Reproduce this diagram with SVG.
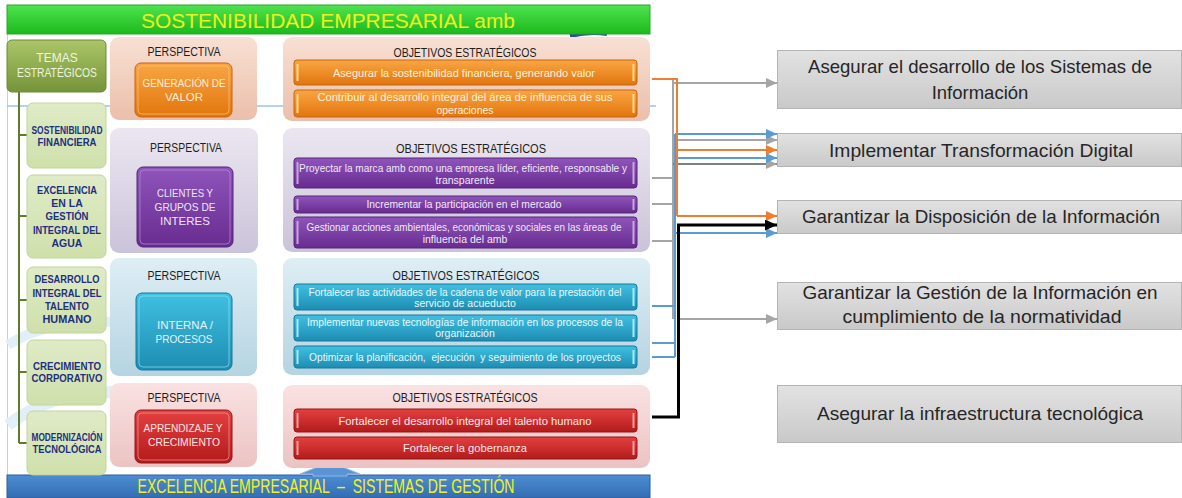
<svg xmlns="http://www.w3.org/2000/svg" width="1182" height="498" viewBox="0 0 1182 498">
<style>
text{font-family:"Liberation Sans",Arial,sans-serif}
.th{font-size:10.5px;font-weight:bold;fill:#1f2f80;text-anchor:middle}
.tm{font-size:12px;fill:#eef4dd;text-anchor:middle}
.ph{font-size:12px;fill:#1e1e1e;text-anchor:middle}
.pb{font-size:11.5px;text-anchor:middle}
.ob{font-size:10.5px;text-anchor:middle}
.rb{fill:url(#gGray);stroke:#b4b4b4;stroke-width:1}
.rt{font-size:18.5px;fill:#262626;text-anchor:middle}
.theme{fill:url(#gTheme);stroke:#c2d59c;stroke-width:1}
.c{fill:none;stroke-width:2}
</style>
<defs>
<linearGradient id="gTitle" x1="0" y1="0" x2="0" y2="1"><stop offset="0" stop-color="#4fe34f"/><stop offset="1" stop-color="#1cb91c"/></linearGradient>
<linearGradient id="gTemas" x1="0" y1="0" x2="0" y2="1"><stop offset="0" stop-color="#abc667"/><stop offset="1" stop-color="#75933a"/></linearGradient>
<linearGradient id="gTheme" x1="0" y1="0" x2="0" y2="1"><stop offset="0" stop-color="#dfebc7"/><stop offset="1" stop-color="#cfe0ab"/></linearGradient>
<linearGradient id="gP1" x1="0" y1="0" x2="0" y2="1"><stop offset="0" stop-color="#f8e0d4"/><stop offset="1" stop-color="#ebbfab"/></linearGradient>
<linearGradient id="gP2" x1="0" y1="0" x2="0" y2="1"><stop offset="0" stop-color="#ebe7f1"/><stop offset="1" stop-color="#cbc3d9"/></linearGradient>
<linearGradient id="gP3" x1="0" y1="0" x2="0" y2="1"><stop offset="0" stop-color="#deeef5"/><stop offset="1" stop-color="#b5d4e1"/></linearGradient>
<linearGradient id="gP4" x1="0" y1="0" x2="0" y2="1"><stop offset="0" stop-color="#fae2e2"/><stop offset="1" stop-color="#ecc3c3"/></linearGradient>
<linearGradient id="gB1" x1="0" y1="0" x2="0" y2="1"><stop offset="0" stop-color="#f9a644"/><stop offset="1" stop-color="#e2750d"/></linearGradient>
<linearGradient id="gB2" x1="0" y1="0" x2="0" y2="1"><stop offset="0" stop-color="#8f55bb"/><stop offset="1" stop-color="#682c90"/></linearGradient>
<linearGradient id="gB3" x1="0" y1="0" x2="0" y2="1"><stop offset="0" stop-color="#40c0e2"/><stop offset="1" stop-color="#1d8db2"/></linearGradient>
<linearGradient id="gB4" x1="0" y1="0" x2="0" y2="1"><stop offset="0" stop-color="#e44040"/><stop offset="1" stop-color="#b31b1b"/></linearGradient>
<linearGradient id="gGray" x1="0" y1="0" x2="0" y2="1"><stop offset="0" stop-color="#e2e2e2"/><stop offset="1" stop-color="#c9c9c9"/></linearGradient>
<linearGradient id="gBottom" x1="0" y1="0" x2="0" y2="1"><stop offset="0" stop-color="#4d8dd3"/><stop offset="1" stop-color="#336db3"/></linearGradient>
<marker id="aGray" markerUnits="userSpaceOnUse" markerWidth="11" markerHeight="10" refX="11" refY="5" orient="auto"><path d="M0,0 L11,5 L0,10 z" fill="#a5a5a5"/></marker>
<marker id="aBlue" markerUnits="userSpaceOnUse" markerWidth="11" markerHeight="10" refX="11" refY="5" orient="auto"><path d="M0,0 L11,5 L0,10 z" fill="#5b9bd5"/></marker>
<marker id="aOrange" markerUnits="userSpaceOnUse" markerWidth="11" markerHeight="10" refX="11" refY="5" orient="auto"><path d="M0,0 L11,5 L0,10 z" fill="#ed7d31"/></marker>
<marker id="aBlack" markerUnits="userSpaceOnUse" markerWidth="12" markerHeight="11" refX="12" refY="5.5" orient="auto"><path d="M0,0 L12,5.5 L0,11 z" fill="#000"/></marker>
</defs>

<rect x="0" y="0" width="1182" height="498" fill="#ffffff"/>

<g id="slide-background">
<rect x="7" y="34" width="643" height="441" fill="#ffffff"/>
<line x1="7.5" y1="34" x2="7.5" y2="475" stroke="#d0d0d0" stroke-width="1"/>
<line x1="7" y1="106" x2="656" y2="106" stroke="#9cc3e6" stroke-width="1.5"/>
<path d="M8,345 Q50,318 115,322" fill="none" stroke="#e2eef8" stroke-width="10"/>
<path d="M8,425 Q50,392 115,392" fill="none" stroke="#e2eef8" stroke-width="12"/>
<path d="M570,36 Q590,31 607,34" fill="none" stroke="#2a4f9a" stroke-width="4"/>
</g>

<g id="title">
<rect x="7" y="5" width="643" height="29" fill="url(#gTitle)" stroke="#2aa82a" stroke-width="1"/>
<text x="328" y="28" font-size="20" fill="#f2f21c" text-anchor="middle" textLength="374" lengthAdjust="spacingAndGlyphs">SOSTENIBILIDAD EMPRESARIAL amb</text>
</g>

<g id="bottom-bar">
<rect x="7" y="475" width="643" height="23" fill="url(#gBottom)" stroke="#2e5f9e" stroke-width="1"/>
<polygon points="300,474 330,462 360,474 347,474 347,476 313,476 313,474" fill="#5b94d4" stroke="#8fb8e6" stroke-width="1"/>
<text x="326" y="493" font-size="20" fill="#f2f21c" text-anchor="middle" style="white-space:pre" textLength="377" lengthAdjust="spacingAndGlyphs">EXCELENCIA EMPRESARIAL  –  SISTEMAS DE GESTIÓN</text>
</g>

<g id="temas-tree">
<path d="M19,92 V443 M19,135 H28 M19,216 H28 M19,300 H28 M19,372 H28 M19,443 H28" fill="none" stroke="#5e7d2c" stroke-width="2"/>
</g>

<g id="temas-estrategicos">
<rect x="7" y="40" width="99" height="52" rx="5" fill="url(#gTemas)" stroke="#6e8a35" stroke-width="1"/>
<text class="tm" x="57" y="62">TEMAS</text>
<text class="tm" x="57" y="77" textLength="80" lengthAdjust="spacingAndGlyphs">ESTRATÉGICOS</text>
</g>

<g id="tema-sostenibilidad">
<rect class="theme" x="27" y="103" width="79" height="65" rx="6"/>
<text class="th" x="67" y="134" textLength="71" lengthAdjust="spacingAndGlyphs">SOSTENIBILIDAD</text>
<text class="th" x="67" y="146" textLength="59" lengthAdjust="spacingAndGlyphs">FINANCIERA</text>
</g>
<g id="tema-excelencia">
<rect class="theme" x="27" y="175" width="79" height="83" rx="6"/>
<text class="th" x="67" y="194" textLength="60" lengthAdjust="spacingAndGlyphs">EXCELENCIA</text>
<text class="th" x="67" y="207">EN LA</text>
<text class="th" x="67" y="220" textLength="43" lengthAdjust="spacingAndGlyphs">GESTIÓN</text>
<text class="th" x="67" y="234" textLength="68" lengthAdjust="spacingAndGlyphs">INTEGRAL DEL</text>
<text class="th" x="67" y="247">AGUA</text>
</g>
<g id="tema-talento">
<rect class="theme" x="27" y="267" width="79" height="66" rx="6"/>
<text class="th" x="67" y="283" textLength="65" lengthAdjust="spacingAndGlyphs">DESARROLLO</text>
<text class="th" x="67" y="297" textLength="69" lengthAdjust="spacingAndGlyphs">INTEGRAL DEL</text>
<text class="th" x="67" y="310" textLength="44" lengthAdjust="spacingAndGlyphs">TALENTO</text>
<text class="th" x="67" y="323" textLength="49" lengthAdjust="spacingAndGlyphs">HUMANO</text>
</g>
<g id="tema-crecimiento">
<rect class="theme" x="27" y="340" width="79" height="65" rx="6"/>
<text class="th" x="67" y="370" textLength="68" lengthAdjust="spacingAndGlyphs">CRECIMIENTO</text>
<text class="th" x="67" y="382" textLength="71" lengthAdjust="spacingAndGlyphs">CORPORATIVO</text>
</g>
<g id="tema-modernizacion">
<rect class="theme" x="27" y="411" width="79" height="64" rx="6"/>
<text class="th" x="67" y="441" font-size="9.5" textLength="71" lengthAdjust="spacingAndGlyphs">MODERNIZACIÓN</text>
<text class="th" x="67" y="453" textLength="69" lengthAdjust="spacingAndGlyphs">TECNOLÓGICA</text>
</g>

<g id="perspectiva-generacion">
<rect x="110" y="37" width="147" height="83" rx="9" fill="url(#gP1)"/>
<text class="ph" x="184" y="55.5" textLength="73" lengthAdjust="spacingAndGlyphs">PERSPECTIVA</text>
<rect x="135" y="63" width="97" height="54" rx="6" fill="url(#gB1)" stroke="#c9650c" stroke-width="1"/>
<rect x="138" y="66" width="91" height="48" rx="4" fill="none" stroke="#fbc27a" stroke-width="1" opacity="0.7"/>
<text class="pb" x="184" y="87" fill="#fdeed8" textLength="83" lengthAdjust="spacingAndGlyphs">GENERACIÓN DE</text>
<text class="pb" x="184" y="101" fill="#fdeed8">VALOR</text>
</g>

<g id="perspectiva-clientes">
<rect x="110" y="128" width="148" height="125" rx="9" fill="url(#gP2)"/>
<text class="ph" x="186" y="151.5" textLength="72" lengthAdjust="spacingAndGlyphs">PERSPECTIVA</text>
<rect x="137" y="167" width="96" height="80" rx="6" fill="url(#gB2)" stroke="#56237a" stroke-width="1"/>
<rect x="140" y="170" width="90" height="74" rx="4" fill="none" stroke="#b88bd8" stroke-width="1" opacity="0.7"/>
<text class="pb" x="185" y="197" fill="#eee4f5" textLength="56" lengthAdjust="spacingAndGlyphs">CLIENTES Y</text>
<text class="pb" x="185" y="211" fill="#eee4f5" textLength="61" lengthAdjust="spacingAndGlyphs">GRUPOS DE</text>
<text class="pb" x="185" y="225" fill="#eee4f5">INTERES</text>
</g>

<g id="perspectiva-interna">
<rect x="110" y="258" width="147" height="118" rx="9" fill="url(#gP3)"/>
<text class="ph" x="184" y="279.5" textLength="73" lengthAdjust="spacingAndGlyphs">PERSPECTIVA</text>
<rect x="136" y="293" width="96" height="77" rx="6" fill="url(#gB3)" stroke="#17799a" stroke-width="1"/>
<rect x="139" y="296" width="90" height="71" rx="4" fill="none" stroke="#8ee0f5" stroke-width="1" opacity="0.7"/>
<text class="pb" x="185" y="329" fill="#e2f5fb" textLength="56" lengthAdjust="spacingAndGlyphs">INTERNA /</text>
<text class="pb" x="184" y="343" fill="#e2f5fb" textLength="57" lengthAdjust="spacingAndGlyphs">PROCESOS</text>
</g>

<g id="perspectiva-aprendizaje">
<rect x="110" y="383" width="147" height="84" rx="9" fill="url(#gP4)"/>
<text class="ph" x="184" y="401.5" textLength="73" lengthAdjust="spacingAndGlyphs">PERSPECTIVA</text>
<rect x="135" y="410" width="97" height="53" rx="6" fill="url(#gB4)" stroke="#961515" stroke-width="1"/>
<rect x="138" y="413" width="91" height="47" rx="4" fill="none" stroke="#f79a9a" stroke-width="1" opacity="0.7"/>
<text class="pb" x="183" y="432" fill="#fde6e6" textLength="79" lengthAdjust="spacingAndGlyphs">APRENDIZAJE Y</text>
<text class="pb" x="184" y="446" fill="#fde6e6" textLength="72" lengthAdjust="spacingAndGlyphs">CRECIMIENTO</text>
</g>

<g id="objetivos-generacion">
<rect x="283" y="37" width="367" height="84" rx="9" fill="url(#gP1)"/>
<text class="ph" x="465" y="56.5" textLength="143" lengthAdjust="spacingAndGlyphs">OBJETIVOS ESTRATÉGICOS</text>
<rect x="294" y="60" width="343" height="25" rx="3" fill="url(#gB1)" stroke="#c9650c" stroke-width="1"/>
<rect x="296.5" y="64" width="2" height="17" fill="#ffdc8a"/><rect x="632.5" y="64" width="2" height="17" fill="#ffdc8a"/>
<text class="ob" x="464" y="76.5" fill="#fff3dc" textLength="262" lengthAdjust="spacingAndGlyphs">Asegurar la sostenibilidad financiera, generando valor</text>
<rect x="294" y="90" width="343" height="27" rx="3" fill="url(#gB1)" stroke="#c9650c" stroke-width="1"/>
<rect x="296.5" y="94" width="2" height="19" fill="#ffdc8a"/><rect x="632.5" y="94" width="2" height="19" fill="#ffdc8a"/>
<text class="ob" x="465" y="100.5" fill="#fff3dc" textLength="295" lengthAdjust="spacingAndGlyphs">Contribuir al desarrollo integral del área de influencia de sus</text>
<text class="ob" x="465" y="113.5" fill="#fff3dc">operaciones</text>
</g>

<g id="objetivos-clientes">
<rect x="283" y="128" width="367" height="124" rx="9" fill="url(#gP2)"/>
<text class="ph" x="471" y="152.5" textLength="150" lengthAdjust="spacingAndGlyphs">OBJETIVOS ESTRATÉGICOS</text>
<rect x="294" y="158" width="343" height="30" rx="3" fill="url(#gB2)" stroke="#56237a" stroke-width="1"/>
<rect x="296.5" y="162" width="2" height="22" fill="#c9a6e2"/><rect x="632.5" y="162" width="2" height="22" fill="#c9a6e2"/>
<text class="ob" x="463" y="171.5" fill="#f2e8f8" textLength="328" lengthAdjust="spacingAndGlyphs">Proyectar la marca amb como una empresa líder, eficiente, responsable y</text>
<text class="ob" x="465" y="183.5" fill="#f2e8f8">transparente</text>
<rect x="294" y="196" width="343" height="17" rx="3" fill="url(#gB2)" stroke="#56237a" stroke-width="1"/>
<rect x="296.5" y="199" width="2" height="11" fill="#c9a6e2"/><rect x="632.5" y="199" width="2" height="11" fill="#c9a6e2"/>
<text class="ob" x="464" y="208" fill="#f2e8f8" textLength="195" lengthAdjust="spacingAndGlyphs">Incrementar la participación en el mercado</text>
<rect x="294" y="217" width="343" height="31" rx="3" fill="url(#gB2)" stroke="#56237a" stroke-width="1"/>
<rect x="296.5" y="221" width="2" height="23" fill="#c9a6e2"/><rect x="632.5" y="221" width="2" height="23" fill="#c9a6e2"/>
<text class="ob" x="464" y="230.5" fill="#f2e8f8" textLength="315" lengthAdjust="spacingAndGlyphs">Gestionar acciones ambientales, económicas y sociales en las áreas de</text>
<text class="ob" x="465" y="242.5" fill="#f2e8f8">influencia del amb</text>
</g>

<g id="objetivos-interna">
<rect x="283" y="258" width="367" height="117" rx="9" fill="url(#gP3)"/>
<text class="ph" x="466" y="279.5" textLength="147" lengthAdjust="spacingAndGlyphs">OBJETIVOS ESTRATÉGICOS</text>
<rect x="294" y="284" width="343" height="26" rx="3" fill="url(#gB3)" stroke="#17799a" stroke-width="1"/>
<rect x="296.5" y="288" width="2" height="18" fill="#a4ecf8"/><rect x="632.5" y="288" width="2" height="18" fill="#a4ecf8"/>
<text class="ob" x="465" y="295.5" fill="#e8f8fc" textLength="313" lengthAdjust="spacingAndGlyphs">Fortalecer las actividades de la cadena de valor para la prestación del</text>
<text class="ob" x="465" y="306.5" fill="#e8f8fc">servicio de acueducto</text>
<rect x="294" y="315" width="343" height="26" rx="3" fill="url(#gB3)" stroke="#17799a" stroke-width="1"/>
<rect x="296.5" y="319" width="2" height="18" fill="#a4ecf8"/><rect x="632.5" y="319" width="2" height="18" fill="#a4ecf8"/>
<text class="ob" x="465" y="325.5" fill="#e8f8fc" textLength="316" lengthAdjust="spacingAndGlyphs">Implementar nuevas tecnologías de información en los procesos de la</text>
<text class="ob" x="465" y="336.5" fill="#e8f8fc">organización</text>
<rect x="294" y="346" width="343" height="22" rx="3" fill="url(#gB3)" stroke="#17799a" stroke-width="1"/>
<rect x="296.5" y="350" width="2" height="14" fill="#a4ecf8"/><rect x="632.5" y="350" width="2" height="14" fill="#a4ecf8"/>
<text class="ob" x="465" y="360.5" fill="#e8f8fc" style="white-space:pre" textLength="312" lengthAdjust="spacingAndGlyphs">Optimizar la planificación,  ejecución  y seguimiento de los proyectos</text>
</g>

<g id="objetivos-aprendizaje">
<rect x="283" y="385" width="367" height="83" rx="9" fill="url(#gP4)"/>
<text class="ph" x="465" y="401.5" textLength="145" lengthAdjust="spacingAndGlyphs">OBJETIVOS ESTRATÉGICOS</text>
<rect x="294" y="409" width="343" height="23" rx="3" fill="url(#gB4)" stroke="#961515" stroke-width="1"/>
<rect x="296.5" y="413" width="2" height="15" fill="#f7a0a0"/><rect x="632.5" y="413" width="2" height="15" fill="#f7a0a0"/>
<text class="ob" x="465" y="424.5" fill="#fde8e8" textLength="253" lengthAdjust="spacingAndGlyphs">Fortalecer el desarrollo integral del talento humano</text>
<rect x="294" y="437" width="343" height="22" rx="3" fill="url(#gB4)" stroke="#961515" stroke-width="1"/>
<rect x="296.5" y="441" width="2" height="14" fill="#f7a0a0"/><rect x="632.5" y="441" width="2" height="14" fill="#f7a0a0"/>
<text class="ob" x="465" y="451.5" fill="#fde8e8" textLength="124" lengthAdjust="spacingAndGlyphs">Fortalecer la gobernanza</text>
</g>

<g id="connectors">
<g stroke="#a5a5a5" class="c">
<path d="M673,79 V319"/>
<path d="M652,178 H673 M652,204 H673 M652,241 H673"/>
<path d="M673,83 H777" marker-end="url(#aGray)"/>
<path d="M673,140 H777" marker-end="url(#aGray)"/>
<path d="M673,164 H777" stroke="#7f7f7f" marker-end="url(#aGray)"/>
<path d="M679,319 H777" marker-end="url(#aGray)"/>
</g>
<g stroke="#5b9bd5" class="c">
<path d="M675,134 V357"/>
<path d="M652,306 H675 M652,343 H675 M652,357 H675"/>
<path d="M675,134 H777" marker-end="url(#aBlue)"/>
<path d="M675,158 H777" marker-end="url(#aBlue)"/>
<path d="M675,233 H777" marker-end="url(#aBlue)"/>
</g>
<g stroke="#ed7d31" class="c">
<path d="M652,79 H677 V216"/>
<path d="M677,150 H777" marker-end="url(#aOrange)"/>
<path d="M677,216 H777" marker-end="url(#aOrange)"/>
</g>
<g stroke="#000000" fill="none" stroke-width="3">
<path d="M652,417 H678.5 V225 H777" marker-end="url(#aBlack)"/>
</g>
</g>

<g id="sistemas-informacion">
<rect class="rb" x="777.5" y="50.5" width="404" height="58"/>
<text class="rt" x="980" y="73" textLength="344" lengthAdjust="spacingAndGlyphs">Asegurar el desarrollo de los Sistemas de</text>
<text class="rt" x="980" y="99">Información</text>
</g>
<g id="transformacion-digital">
<rect class="rb" x="777.5" y="133.5" width="404" height="33"/>
<text class="rt" x="981" y="157" textLength="304" lengthAdjust="spacingAndGlyphs">Implementar Transformación Digital</text>
</g>
<g id="disposicion-informacion">
<rect class="rb" x="777.5" y="200.5" width="404" height="33"/>
<text class="rt" x="981" y="223" textLength="358" lengthAdjust="spacingAndGlyphs">Garantizar la Disposición de la Información</text>
</g>
<g id="gestion-informacion">
<rect class="rb" x="777.5" y="282.5" width="404" height="47"/>
<text class="rt" x="980" y="299" textLength="355" lengthAdjust="spacingAndGlyphs">Garantizar la Gestión de la Información en</text>
<text class="rt" x="982" y="323" textLength="279" lengthAdjust="spacingAndGlyphs">cumplimiento de la normatividad</text>
</g>
<g id="infraestructura-tecnologica">
<rect class="rb" x="777.5" y="385.5" width="404" height="57"/>
<text class="rt" x="980" y="420" textLength="326" lengthAdjust="spacingAndGlyphs">Asegurar la infraestructura tecnológica</text>
</g>
</svg>
